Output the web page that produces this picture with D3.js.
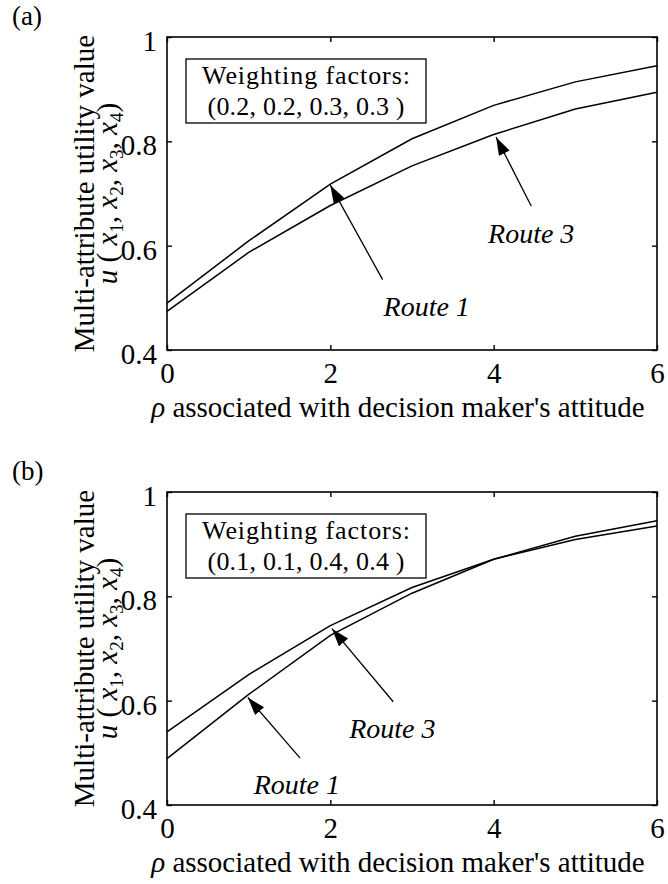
<!DOCTYPE html>
<html>
<head>
<meta charset="utf-8">
<script src="https://cdn.jsdelivr.net/npm/d3@7"></script>
<style>
  body { margin: 0; background: #fff; }
  svg text { font-family: "Liberation Serif", "Times New Roman", serif; fill: #000; }
</style>
</head>
<body>
<div id="chart"></div>
<script>
// rho values (x axis) shared by both panels
const rho = [0, 1, 2, 3, 4, 5, 6];
const xTicks = [0, 2, 4, 6];
const yTicks = [0.4, 0.6, 0.8, 1];

// panel (a): weights (0.2, 0.2, 0.3, 0.3)
const aRoute1 = [0.490, 0.609, 0.718, 0.805, 0.869, 0.914, 0.945];
const aRoute3 = [0.474, 0.587, 0.677, 0.753, 0.813, 0.862, 0.894];
// panel (b): weights (0.1, 0.1, 0.4, 0.4)
const bRoute3 = [0.540, 0.650, 0.744, 0.817, 0.871, 0.915, 0.945];
const bRoute1 = [0.489, 0.612, 0.725, 0.806, 0.871, 0.909, 0.935];

// annotation arrows, in data units: tip -> tail, label anchor
const aNotes = [
  { label: 'Route 1', tip: [2, 0.716], tail: [2.64, 0.535], at: [3.18, 0.465] },
  { label: 'Route 3', tip: [4.03, 0.808], tail: [4.46, 0.676], at: [4.46, 0.606] }
];
const bNotes = [
  { label: 'Route 3', tip: [2.02, 0.738], tail: [2.77, 0.598], at: [2.76, 0.529] },
  { label: 'Route 1', tip: [0.99, 0.606], tail: [1.63, 0.49], at: [1.59, 0.421] }
];

const panels = [
  { tag: '(a)', top: 37, series: [aRoute1, aRoute3], weights: '(0.2, 0.2, 0.3, 0.3 )', notes: aNotes },
  { tag: '(b)', top: 492, series: [bRoute3, bRoute1], weights: '(0.1, 0.1, 0.4, 0.4 )', notes: bNotes }
];

const W = 668, H = 884;
const plotLeft = 167, plotRight = 657, plotH = 313;

const svg = d3.select('#chart').append('svg')
  .attr('width', W).attr('height', H);

svg.append('defs').append('marker')
  .attr('id', 'head')
  .attr('viewBox', '0 0 18 12')
  .attr('refX', 18).attr('refY', 6)
  .attr('markerWidth', 18).attr('markerHeight', 12)
  .attr('markerUnits', 'userSpaceOnUse')
  .attr('orient', 'auto')
  .append('path')
  .attr('d', 'M0,0 L18,6 L0,12 Z')
  .attr('fill', '#000');

panels.forEach(p => {
  const x = d3.scaleLinear().domain([0, 6]).range([plotLeft, plotRight]);
  const y = d3.scaleLinear().domain([0.4, 1]).range([p.top + plotH, p.top]);
  const g = svg.append('g');

  // panel tag
  g.append('text')
    .attr('x', 12).attr('y', p.top - 12)
    .attr('font-size', 27)
    .text(p.tag);

  // axes with inward ticks
  const bottom = g.append('g')
    .attr('transform', `translate(0,${p.top + plotH})`)
    .call(d3.axisBottom(x).tickValues(xTicks).tickFormat(d3.format('d'))
      .tickSizeInner(-5).tickSizeOuter(0).tickPadding(12));
  const left = g.append('g')
    .attr('transform', `translate(${plotLeft},0)`)
    .call(d3.axisLeft(y).tickValues(yTicks).tickFormat(d => d === 1 ? '1' : d3.format('.1f')(d))
      .tickSizeInner(-5).tickSizeOuter(0).tickPadding(10));
  g.append('g')
    .attr('transform', `translate(0,${p.top})`)
    .call(d3.axisTop(x).tickValues(xTicks).tickFormat('').tickSizeInner(-5).tickSizeOuter(0));
  g.append('g')
    .attr('transform', `translate(${plotRight},0)`)
    .call(d3.axisRight(y).tickValues(yTicks).tickFormat('').tickSizeInner(-5).tickSizeOuter(0));

  g.selectAll('.domain').remove();
  g.selectAll('.tick line').attr('stroke', '#000').attr('stroke-width', 1.4);
  bottom.selectAll('text').attr('font-size', 29);
  left.selectAll('text').attr('font-size', 29).attr('dy', '0.46em');

  // frame
  g.append('rect')
    .attr('x', plotLeft).attr('y', p.top)
    .attr('width', plotRight - plotLeft).attr('height', plotH)
    .attr('fill', 'none').attr('stroke', '#000').attr('stroke-width', 1.6);

  // series lines
  const line = d3.line().x((d, i) => x(rho[i])).y(d => y(d));
  p.series.forEach(s => {
    g.append('path')
      .datum(s)
      .attr('d', line)
      .attr('fill', 'none')
      .attr('stroke', '#000')
      .attr('stroke-width', 1.5);
  });

  // weighting legend box
  const lg = g.append('g').attr('transform', `translate(${plotLeft + 19},${p.top + 22})`);
  lg.append('rect')
    .attr('width', 240).attr('height', 64)
    .attr('fill', '#fff').attr('stroke', '#000').attr('stroke-width', 1.3);
  lg.append('text')
    .attr('x', 120).attr('y', 25)
    .attr('text-anchor', 'middle')
    .attr('font-size', 26)
    .attr('textLength', 208).attr('lengthAdjust', 'spacing')
    .text('Weighting factors:');
  lg.append('text')
    .attr('x', 120).attr('y', 56)
    .attr('text-anchor', 'middle')
    .attr('font-size', 26)
    .attr('textLength', 197).attr('lengthAdjust', 'spacing')
    .text(p.weights);

  // arrows and route labels
  p.notes.forEach(n => {
    g.append('line')
      .attr('x1', x(n.tail[0])).attr('y1', y(n.tail[1]))
      .attr('x2', x(n.tip[0])).attr('y2', y(n.tip[1]))
      .attr('stroke', '#000').attr('stroke-width', 1.3)
      .attr('marker-end', 'url(#head)');
    g.append('text')
      .attr('x', x(n.at[0])).attr('y', y(n.at[1]))
      .attr('text-anchor', 'middle')
      .attr('font-size', 28)
      .attr('font-style', 'italic')
      .text(n.label);
  });

  // x axis title
  const xt = g.append('text')
    .attr('x', 398).attr('y', p.top + plotH + 67)
    .attr('text-anchor', 'middle')
    .attr('font-size', 29);
  xt.append('tspan').attr('font-style', 'italic').text('ρ');
  xt.append('tspan').text(" associated with decision maker's  attitude");

  // y axis title, two lines
  const cy = p.top + plotH / 2;
  g.append('text')
    .attr('transform', `translate(94,${cy}) rotate(-90)`)
    .attr('text-anchor', 'middle')
    .attr('font-size', 29)
    .text('Multi-attribute utility value');
  const yt = g.append('text')
    .attr('transform', `translate(117,${cy}) rotate(-90)`)
    .attr('text-anchor', 'middle')
    .attr('font-size', 29);
  yt.append('tspan').attr('font-style', 'italic').text('u');
  yt.append('tspan').text(' ( ');
  [1, 2, 3, 4].forEach((k, i) => {
    yt.append('tspan').attr('font-style', 'italic').text('x');
    yt.append('tspan').attr('font-size', 19).attr('dy', 6).text(k);
    yt.append('tspan').attr('dy', -6).text(i < 3 ? ', ' : ')');
  });
});
</script>
</body>
</html>
